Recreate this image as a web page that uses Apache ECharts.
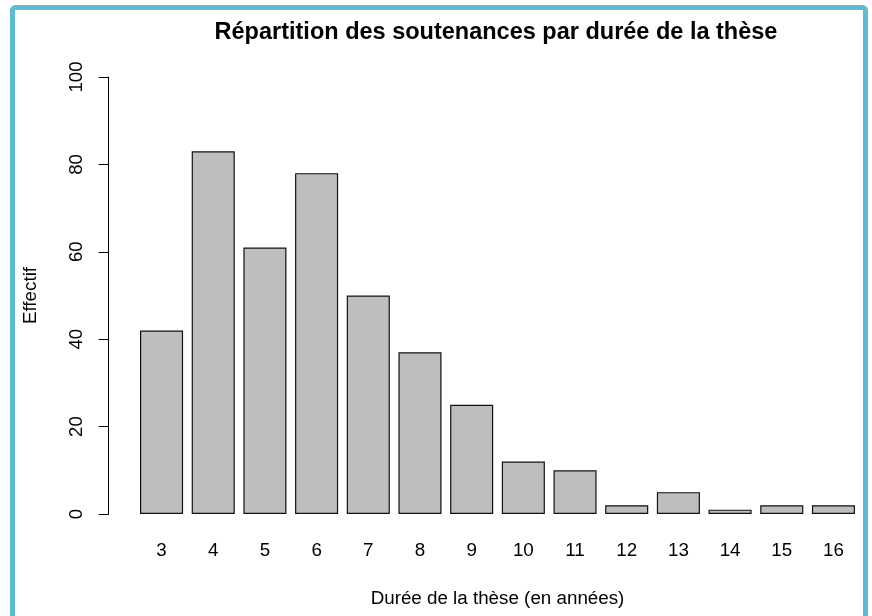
<!DOCTYPE html>
<html>
<head>
<meta charset="utf-8">
<script src="https://cdn.jsdelivr.net/npm/echarts@6/dist/echarts.min.js"></script>
<style>
html,body{margin:0;padding:0;background:#fff;}
#chart{width:872px;height:616px;}
</style>
</head>
<body>
<div id="chart"></div>
<script>
const categories = ['3','4','5','6','7','8','9','10','11','12','13','14','15','16'];
const effectif = [42, 83, 61, 78, 50, 37, 25, 12, 10, 2, 5, 1, 2, 2];
const yTicks = { min: 0, max: 100, interval: 20 };
const titleText = 'Répartition des soutenances par durée de la thèse';
const xTitle = 'Durée de la thèse (en années)';
const yTitle = 'Effectif';

const font = '"Liberation Sans", Arial, sans-serif';
const chart = echarts.init(document.getElementById('chart'), null, {renderer: 'canvas'});
chart.setOption({
  backgroundColor: '#ffffff',
  animation: false,
  graphic: [{
    type: 'rect',
    shape: { x: 12.5, y: 7.5, width: 853, height: 614, r: 3 },
    style: { fill: 'none', stroke: '#5BBCD3', lineWidth: 5 },
    silent: true,
    z: 100
  }, {
    type: 'text',
    x: 496,
    y: 33,
    style: {
      text: titleText,
      align: 'center',
      verticalAlign: 'middle',
      font: 'bold 23.5px "Liberation Sans", Arial, sans-serif',
      fill: '#000'
    },
    silent: true
  }],
  grid: { left: 135.7, right: 12.7, top: 77, bottom: 102 },
  xAxis: {
    type: 'category',
    data: categories,
    axisLine: { show: false },
    axisTick: { show: false },
    axisLabel: { margin: 27, fontFamily: font, fontSize: 18.8, color: '#000' },
    name: xTitle,
    nameLocation: 'middle',
    nameGap: 75,
    nameTextStyle: { fontFamily: font, fontSize: 18.8, color: '#000' }
  },
  yAxis: {
    type: 'value',
    min: yTicks.min,
    max: yTicks.max,
    interval: yTicks.interval,
    offset: 27,
    splitLine: { show: false },
    axisLine: { show: true, lineStyle: { color: '#000', width: 1 } },
    axisTick: { show: true, length: 10, lineStyle: { color: '#000', width: 1 } },
    axisLabel: { rotate: 90, margin: 22, fontFamily: font, fontSize: 18.5, color: '#000' },
    name: yTitle,
    nameLocation: 'middle',
    nameGap: 68,
    nameRotate: 90,
    nameTextStyle: { fontFamily: font, fontSize: 18.8, color: '#000' }
  },
  series: [{
    type: 'bar',
    data: effectif,
    barCategoryGap: '16.67%',
    itemStyle: { color: '#BEBEBE', borderColor: '#111', borderWidth: 1.2 }
  }]
});
</script>
</body>
</html>
